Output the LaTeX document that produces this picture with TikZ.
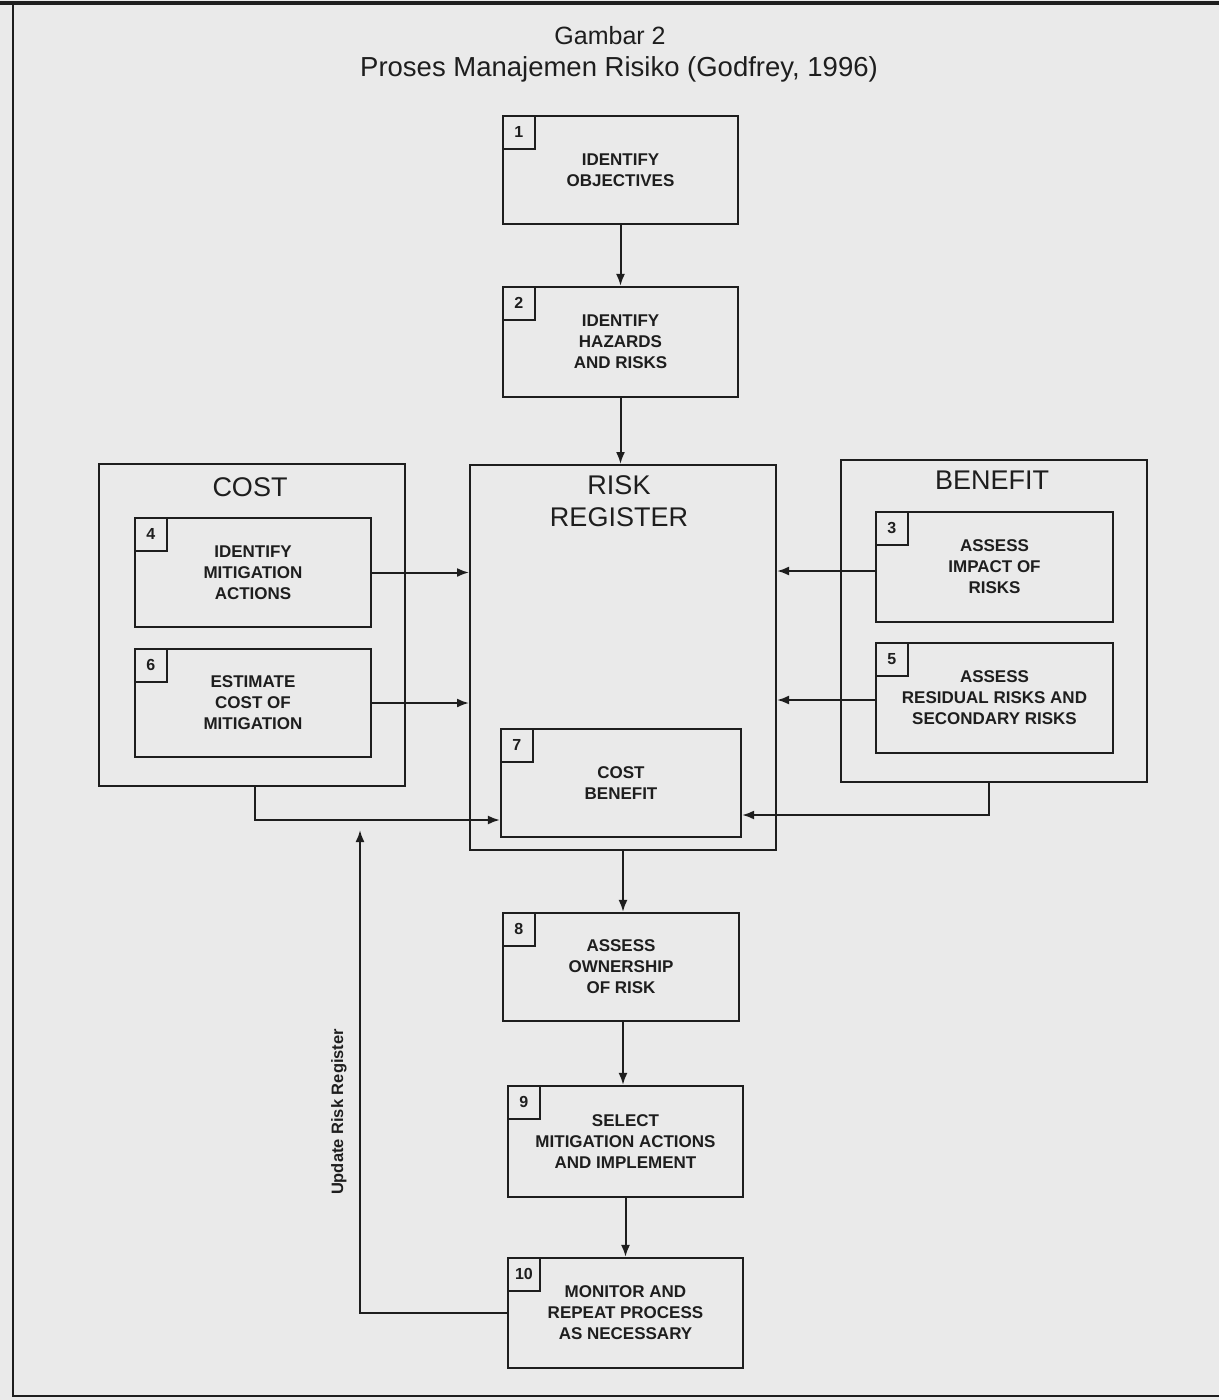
\documentclass[tikz,border=0pt]{standalone}
\usepackage{fontspec}
\setmainfont{Liberation Sans}
\usetikzlibrary{arrows.meta,calc}
\definecolor{paper}{RGB}{234,234,234}
\definecolor{ink}{RGB}{30,30,30}
\begin{document}
\begin{tikzpicture}[x=1pt,y=-1pt,
 procbox/.style={draw=ink, line width=2.2pt, align=center, text=ink,
   font=\fontsize{17}{21}\selectfont\bfseries, inner sep=0pt},
 groupbox/.style={draw=ink, line width=2pt, inner sep=0pt},
 numbox/.style={draw=ink, line width=2pt, minimum width=32pt, minimum height=33pt,
   anchor=north west, font=\fontsize{16}{16}\selectfont\bfseries, inner sep=0pt, text=ink},
 arr/.style={draw=ink, line width=2pt, -{Latex[length=12pt,width=9pt]}},
 grouptitle/.style={font=\fontsize{27}{32}\selectfont, align=center, text=ink, inner sep=0pt},
 frameline/.style={draw=ink, line width=2.4pt}
]
\fill[paper] (0,0) rectangle (1219,1400);
\useasboundingbox (0,0) rectangle (1219,1400);
% page frame
\draw[frameline, line width=3.2pt] (0,3) -- (1219,3);
\draw[frameline] (13,3) -- (13,1396) -- (1219,1396);
% title
\node[text=ink, font=\fontsize{25}{30}\selectfont] (title1) at (610,36) {Gambar 2};
\node[text=ink, font=\fontsize{27.5}{32}\selectfont] (title2) at (619,69) {Proses Manajemen Risiko (Godfrey, 1996)};
% group containers
\node[groupbox, minimum width=306pt, minimum height=322pt] (cost) at (252,625) {};
\node[grouptitle] (costt) at (250,487) {COST};
\node[groupbox, minimum width=306pt, minimum height=322pt] (ben) at (994,621) {};
\node[grouptitle] (bent) at (992,480) {BENEFIT};
\node[groupbox, minimum width=306pt, minimum height=385pt] (rr) at (623,657.5) {};
\node[grouptitle] (rrt) at (619,501) {RISK\\REGISTER};
% process boxes
\node[procbox, minimum width=235pt, minimum height=108pt] (b1) at (620.5,170) {IDENTIFY\\OBJECTIVES};
\node[procbox, minimum width=235pt, minimum height=110pt] (b2) at (620.5,342) {IDENTIFY\\HAZARDS\\AND RISKS};
\node[procbox, minimum width=236pt, minimum height=109pt] (b4) at (253,572.5) {IDENTIFY\\MITIGATION\\ACTIONS};
\node[procbox, minimum width=236pt, minimum height=108pt] (b6) at (253,703) {ESTIMATE\\COST OF\\MITIGATION};
\node[procbox, minimum width=237pt, minimum height=110pt] (b3) at (994.5,567) {ASSESS\\IMPACT OF\\RISKS};
\node[procbox, minimum width=237pt, minimum height=110pt] (b5) at (994.5,698) {ASSESS\\RESIDUAL RISKS AND\\SECONDARY RISKS};
\node[procbox, minimum width=240pt, minimum height=108pt] (b7) at (621,783) {COST\\BENEFIT};
\node[procbox, minimum width=236pt, minimum height=108pt] (b8) at (621,967) {ASSESS\\OWNERSHIP\\OF RISK};
\node[procbox, minimum width=235pt, minimum height=111pt] (b9) at (625.5,1141.5) {SELECT\\MITIGATION ACTIONS\\AND IMPLEMENT};
\node[procbox, minimum width=235pt, minimum height=110pt] (b10) at (625.5,1313) {MONITOR AND\\REPEAT PROCESS\\AS NECESSARY};
% number tags
\node[numbox] (n1) at (b1.north west) {1};
\node[numbox] (n2) at (b2.north west) {2};
\node[numbox] (n3) at (b3.north west) {3};
\node[numbox] (n4) at (b4.north west) {4};
\node[numbox] (n5) at (b5.north west) {5};
\node[numbox] (n6) at (b6.north west) {6};
\node[numbox] (n7) at (b7.north west) {7};
\node[numbox] (n8) at (b8.north west) {8};
\node[numbox] (n9) at (b9.north west) {9};
\node[numbox] (n10) at (b10.north west) {10};
% connectors
\draw[arr] (b1.south) -- (b2.north);
\draw[arr] (b2.south) -- (b2.south |- rr.north);
\draw[arr] (b4.east) -- (b4.east -| rr.west);
\draw[arr] (b6.east) -- (b6.east -| rr.west);
\draw[arr] ([yshift=-4pt]b3.west) -- ([yshift=-4pt]b3.west -| rr.east);
\draw[arr] ([yshift=-2pt]b5.west) -- ([yshift=-2pt]b5.west -| rr.east);
\draw[arr] ([xshift=3pt]cost.south) |- ([yshift=-37pt]b7.west);
\draw[arr] ([xshift=-5pt]ben.south) |- ([yshift=-32pt]b7.east);
\draw[arr] (rr.south) -- (rr.south |- b8.north);
\draw[arr] ([xshift=2pt]b8.south) -- ([xshift=2pt]b8.south |- b9.north);
\draw[arr] (b9.south) -- (b10.north);
\coordinate (upd) at (360,830);
\draw[arr] (b10.west) -| (upd);
\node[rotate=90, font=\fontsize{16.5}{16.5}\selectfont\bfseries, text=ink] (updl) at (339,1112) {Update Risk Register};
\end{tikzpicture}
\end{document}
